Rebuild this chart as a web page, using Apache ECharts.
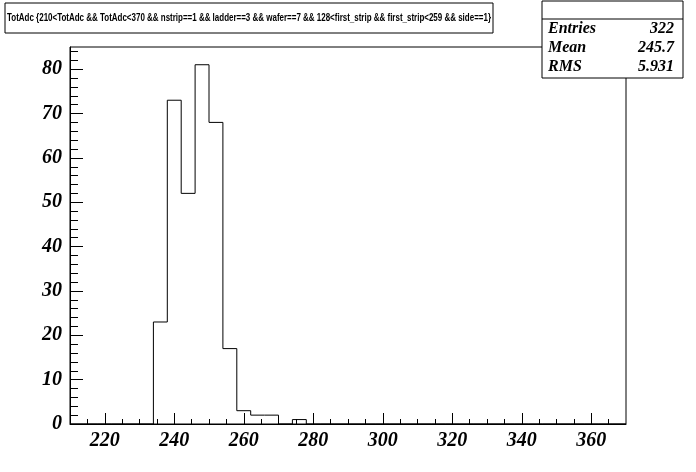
<!DOCTYPE html>
<html>
<head>
<meta charset="utf-8">
<script src="https://cdn.jsdelivr.net/npm/echarts@6/dist/echarts.min.js"></script>
<style>
html,body{margin:0;padding:0;background:#fff;}
#chart{width:696px;height:472px;}
</style>
</head>
<body>
<div id="chart"></div>
<script>
// ---- data ----
const titleText = 'TotAdc {210<TotAdc && TotAdc<370 && nstrip==1 && ladder==3 && wafer==7 && 128<first_strip && first_strip<259 && side==1}';
const xMin = 210;
const xMax = 370;
const binWidth = 4;
// 40 bins of width 4 from 210 to 370
const counts = [0,0,0,0,0,0,23,73,52,81,68,17,3,2,2,0,1,0,0,0,
                0,0,0,0,0,0,0,0,0,0,0,0,0,0,0,0,0,0,0,0];
const xTickLabels = [220,240,260,280,300,320,340,360];
const yTickLabels = [0,10,20,30,40,50,60,70,80];
const yMax = 85;
const statsNames = ['Entries','Mean','RMS'];
const statsValues = ['322','245.7','5.931'];

// ---- build outline from bins ----
const outline = [[xMin, 0]];
counts.forEach((c, i) => {
  const lo = xMin + i * binWidth, hi = lo + binWidth;
  outline.push([lo, c]);
  outline.push([hi, c]);
});
outline.push([xMax, 0]);

const xMinor = [];
for (let v = xMin + 5; v < xMax; v += 5) if (xTickLabels.indexOf(v) < 0) xMinor.push(v);
const yMinor = [];
for (let v = 2; v < yMax; v += 2) if (yTickLabels.indexOf(v) < 0) yMinor.push(v);

const axisFont = {fontFamily:'Liberation Serif', fontWeight:'bold', fontStyle:'italic', fontSize:20, color:'#000'};

// title width fitting
const titleFont = 'bold 10px "Liberation Sans"';
const cv = document.createElement('canvas').getContext('2d');
cv.font = titleFont;
const titleScale = 484 / cv.measureText(titleText).width;

const chart = echarts.init(document.getElementById('chart'), null, {renderer:'canvas'});
const statsGraphics = [];
statsNames.forEach((n, i) => {
  const y = 29 + i * 19;
  statsGraphics.push({type:'text', x:548, y:y, style:{text:n, font:'italic bold 16px "Liberation Serif"', fill:'#000', verticalAlign:'middle'}});
  statsGraphics.push({type:'text', x:674, y:y, style:{text:statsValues[i], font:'italic bold 16px "Liberation Serif"', fill:'#000', align:'right', verticalAlign:'middle'}});
});

chart.setOption({
  animation:false,
  backgroundColor:'#fff',
  grid:{left:70, right:70, top:47, bottom:48, show:true, borderColor:'#000', borderWidth:1, backgroundColor:'transparent'},
  xAxis:[
    {type:'value', min:xMin, max:xMax, position:'bottom',
     axisLine:{show:true, onZero:false, lineStyle:{color:'#000', width:1}},
     axisTick:{show:true, inside:true, length:11, customValues:xTickLabels, lineStyle:{color:'#000'}},
     axisLabel:{show:true, customValues:xTickLabels, margin:7, ...axisFont},
     splitLine:{show:false}},
    {type:'value', min:xMin, max:xMax, position:'bottom',
     axisLine:{show:false},
     axisTick:{show:true, inside:true, length:5, customValues:xMinor, lineStyle:{color:'#000'}},
     axisLabel:{show:false},
     splitLine:{show:false}}
  ],
  yAxis:[
    {type:'value', min:0, max:yMax, position:'left',
     axisLine:{show:true, onZero:false, lineStyle:{color:'#000', width:1}},
     axisTick:{show:true, inside:true, length:13, customValues:yTickLabels, lineStyle:{color:'#000'}},
     axisLabel:{show:true, customValues:yTickLabels, margin:8, ...axisFont},
     splitLine:{show:false}},
    {type:'value', min:0, max:yMax, position:'left',
     axisLine:{show:false},
     axisTick:{show:true, inside:true, length:8, customValues:yMinor, lineStyle:{color:'#000'}},
     axisLabel:{show:false},
     splitLine:{show:false}}
  ],
  series:[{
    type:'line', data:outline, xAxisIndex:0, yAxisIndex:0,
    showSymbol:false, symbol:'none',
    lineStyle:{color:'#000', width:1}, z:3
  }],
  graphic:[
    {type:'rect', shape:{x:5, y:3, width:488, height:30}, style:{fill:'#fff', stroke:'#000', lineWidth:1}},
    {type:'text', x:7, y:18, scaleX:titleScale, style:{text:titleText, font:titleFont, fill:'#000', verticalAlign:'middle'}},
    {type:'rect', shape:{x:542, y:1, width:141, height:77}, style:{fill:'#fff', stroke:'#000', lineWidth:1}, z:10},
    {type:'line', shape:{x1:542, y1:19, x2:683, y2:19}, style:{stroke:'#000', lineWidth:1}, z:11},
    ...statsGraphics.map(g => Object.assign(g, {z:12}))
  ]
});
</script>
</body>
</html>
